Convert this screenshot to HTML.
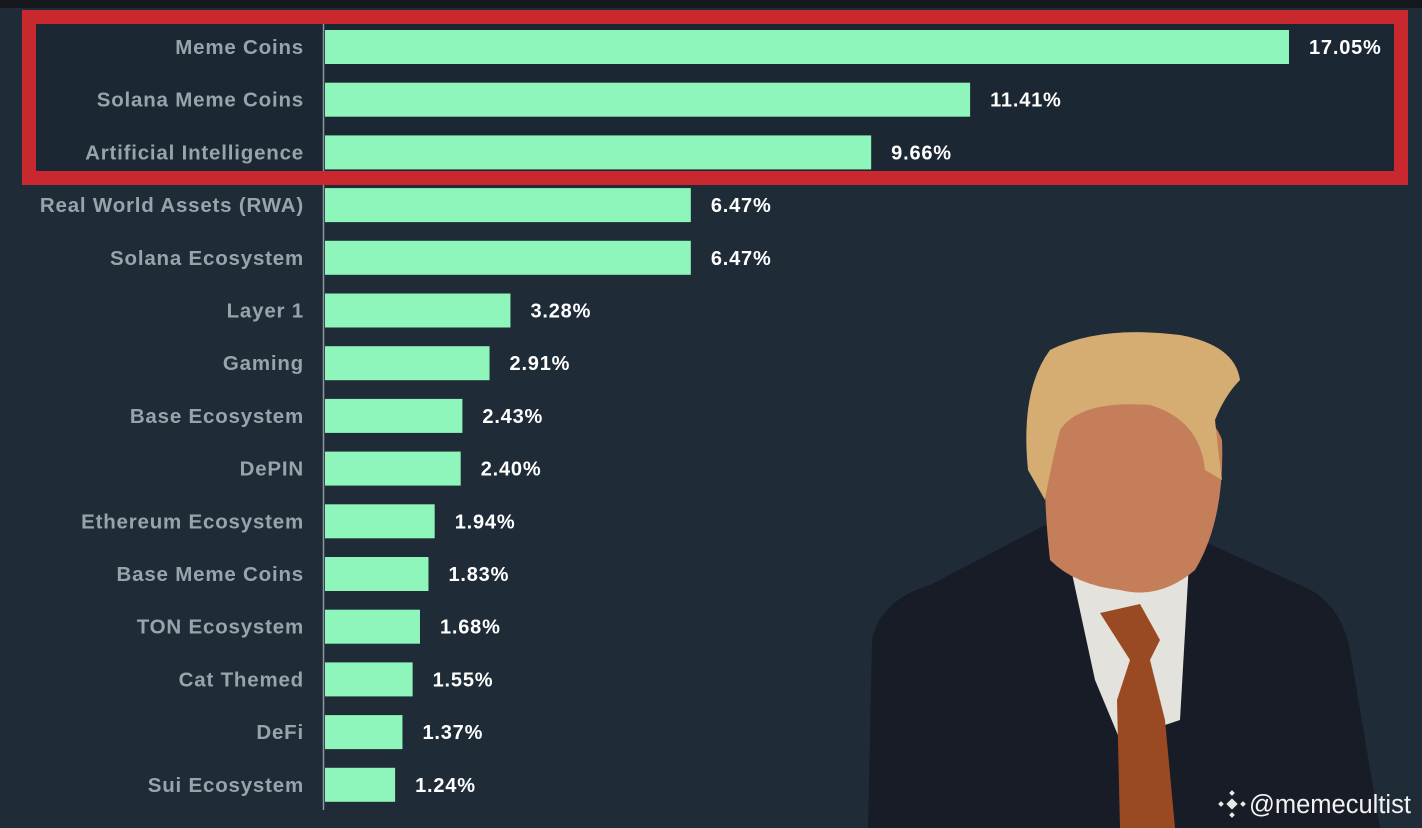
<!DOCTYPE html>
<html><head><meta charset="utf-8"><style>
html,body{margin:0;padding:0;background:#1f2c38;}
svg{display:block;font-family:"Liberation Sans",Arial,sans-serif;}
</style></head><body>
<svg id="chart" width="1422" height="828" viewBox="0 0 1422 828">
<rect x="0" y="0" width="1422" height="828" fill="#1f2c38"/>
<rect x="0" y="0" width="1422" height="8" fill="#15191d"/>
<rect x="36" y="24" width="1358" height="148" fill="#1b2733"/>
<g id="bars"></g>
<line x1="323.5" y1="24" x2="323.5" y2="810" stroke="#8d969d" stroke-width="1.5"/>
<rect x="29" y="17" width="1372" height="161" fill="none" stroke="#c9282f" stroke-width="14"/>
<g>
  <path d="M868,828 L872,640 Q880,600 930,585 L1045,525 L1190,535 L1300,585 Q1340,600 1350,650 L1380,828 Z" fill="#181c27"/>
  <path d="M1068,555 L1190,545 L1180,720 L1120,740 L1095,680 Z" fill="#e4e2dc"/>
  <path d="M1100,613 L1140,604 L1160,640 L1150,660 L1165,720 L1175,828 L1120,828 L1117,700 L1130,660 Z" fill="#9a4a22"/>
  <path d="M1050,560 Q1040,470 1050,420 Q1090,395 1150,398 Q1210,405 1222,440 Q1225,520 1195,570 Q1160,600 1120,590 Q1075,585 1050,560 Z" fill="#c57e5a"/>
  <path d="M1028,470 Q1020,390 1050,350 Q1100,325 1180,335 Q1235,345 1240,380 Q1225,395 1215,420 Q1218,450 1222,480 L1205,470 Q1200,420 1150,405 Q1080,400 1060,430 Q1050,470 1045,500 Z" fill="#d5ac72"/>
</g>
<g>
  <g transform="translate(1232,804)" fill="#e8e8e8"><rect x="-4" y="-4" width="8" height="8" transform="rotate(45)"/><rect x="-13" y="-2" width="4" height="4" transform="rotate(45 -11 0)"/><rect x="9" y="-2" width="4" height="4" transform="rotate(45 11 0)"/><rect x="-2" y="-13" width="4" height="4" transform="rotate(45 0 -11)"/><rect x="-2" y="9" width="4" height="4" transform="rotate(45 0 11)"/></g>
  <text x="1249" y="813" fill="#f2f2f2" font-size="25.5">@memecultist</text>
</g>
</svg>
<script>
const categories=["Meme Coins","Solana Meme Coins","Artificial Intelligence","Real World Assets (RWA)","Solana Ecosystem","Layer 1","Gaming","Base Ecosystem","DePIN","Ethereum Ecosystem","Base Meme Coins","TON Ecosystem","Cat Themed","DeFi","Sui Ecosystem"];
const values=[17.05,11.41,9.66,6.47,6.47,3.28,2.91,2.43,2.40,1.94,1.83,1.68,1.55,1.37,1.24];
const valueLabels=["17.05%","11.41%","9.66%","6.47%","6.47%","3.28%","2.91%","2.43%","2.40%","1.94%","1.83%","1.68%","1.55%","1.37%","1.24%"];
const NS="http://www.w3.org/2000/svg";
const x0=325, pxPer=56.54;
function xScale(v){return x0+v*pxPer;}
function yScale(i){return 47+i*52.7;}
const g=document.getElementById('bars');
categories.forEach((c,i)=>{
  const yc=yScale(i);
  const r=document.createElementNS(NS,'rect');
  r.setAttribute('x',x0);r.setAttribute('y',yc-17);
  r.setAttribute('width',xScale(values[i])-x0);r.setAttribute('height',34);
  r.setAttribute('fill','#8ef5bb');
  
  
  g.appendChild(r);
  const t=document.createElementNS(NS,'text');
  t.setAttribute('x',304);t.setAttribute('y',yc+7);
  t.setAttribute('text-anchor','end');t.setAttribute('font-size','20.5');
  t.setAttribute('letter-spacing','0.8');
  t.setAttribute('font-weight','bold');t.setAttribute('fill','#98a3ab');
  t.textContent=c;
  
  
  g.appendChild(t);
  const v=document.createElementNS(NS,'text');
  v.setAttribute('x',xScale(values[i])+20);v.setAttribute('y',yc+7);
  v.setAttribute('font-size','20');v.setAttribute('font-weight','bold');
  v.setAttribute('letter-spacing','0.8');
  v.setAttribute('fill','#ffffff');
  v.textContent=valueLabels[i];
  
  
  g.appendChild(v);
});
</script>
</body></html>
